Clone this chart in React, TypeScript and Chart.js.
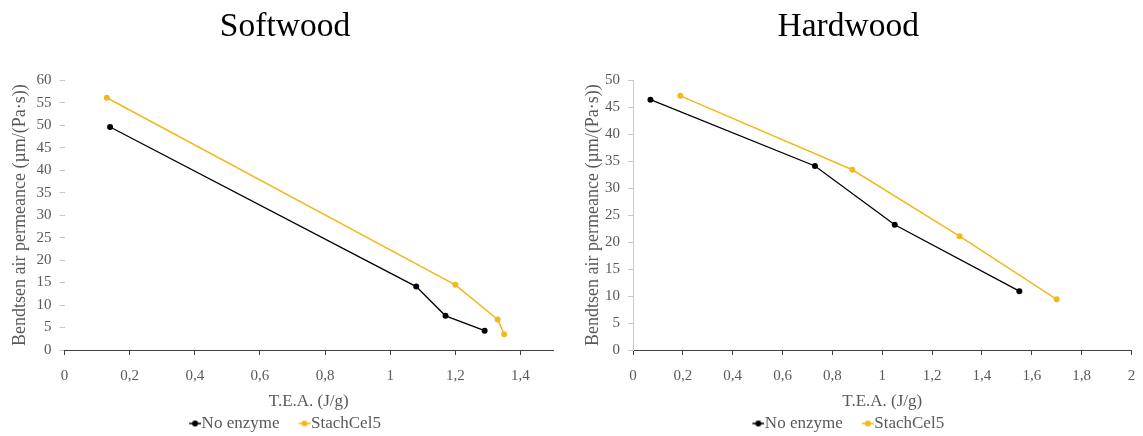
import React, { useEffect, useRef } from 'react';
import { Chart, registerables } from 'chart.js';
Chart.register(...registerables);

const seriesNames = ['No enzyme', 'StachCel5'];
const softNoEnzymeX = [0.14, 1.08, 1.17, 1.29];
const softNoEnzymeY = [49.6, 14.1, 7.6, 4.3];
const softStachX = [0.13, 1.2, 1.33, 1.35];
const softStachY = [56.1, 14.5, 6.8, 3.5];
const hardNoEnzymeX = [0.07, 0.73, 1.05, 1.55];
const hardNoEnzymeY = [46.4, 34.1, 23.2, 10.9];
const hardStachX = [0.19, 0.88, 1.31, 1.7];
const hardStachY = [47.1, 33.4, 21.1, 9.4];
const softXTicks = [0, 0.2, 0.4, 0.6, 0.8, 1, 1.2, 1.4];
const hardXTicks = [0, 0.2, 0.4, 0.6, 0.8, 1, 1.2, 1.4, 1.6, 1.8, 2];

const BLACK = '#000000';
const GOLD = '#F2B91C';
const FONT = "'Liberation Serif', 'Times New Roman', serif";
const GREY = '#595959';

function marker(color: string) {
  const c = document.createElement('canvas');
  c.width = 20;
  c.height = 8;
  const ctx = c.getContext('2d')!;
  ctx.strokeStyle = color;
  ctx.lineWidth = 1.5;
  ctx.beginPath();
  ctx.moveTo(8, 4);
  ctx.lineTo(20, 4);
  ctx.stroke();
  ctx.fillStyle = color;
  ctx.beginPath();
  ctx.arc(14, 4, 3, 0, Math.PI * 2);
  ctx.fill();
  return c;
}

function fmt(v: number) {
  return String(Math.round(v * 10) / 10).replace('.', ',');
}

type Props = {
  title: string;
  nx: number[]; ny: number[]; sx: number[]; sy: number[];
  xMax: number; xTicks: number[]; yMax: number; showYBorder: boolean;
  padLeft: number; padRight: number; yWidth: number; yTitlePad: number;
  left: number; width: number;
};

function Panel(p: Props) {
  const ref = useRef<HTMLCanvasElement>(null);
  useEffect(() => {
    const mk = (xs: number[], ys: number[]) => xs.map((x, i) => ({ x, y: ys[i] }));
    const chart = new Chart(ref.current!, {
      type: 'line',
      data: {
        datasets: [
          {
            label: seriesNames[0], data: mk(p.nx, p.ny), borderColor: BLACK, backgroundColor: BLACK,
            borderWidth: 1.3, pointRadius: 3, pointBackgroundColor: BLACK, pointBorderWidth: 0,
            pointStyle: 'circle',
          },
          {
            label: seriesNames[1], data: mk(p.sx, p.sy), borderColor: GOLD, backgroundColor: GOLD,
            borderWidth: 1.5, pointRadius: 3, pointBackgroundColor: GOLD, pointBorderWidth: 0,
            pointStyle: 'circle',
          },
        ],
      },
      options: {
        animation: false,
        responsive: false,
        maintainAspectRatio: false,
        layout: { padding: { left: p.padLeft, right: p.padRight, top: 0, bottom: -6 } },
        plugins: {
          title: {
            display: true, text: p.title, color: '#000',
            font: { family: FONT, size: 33.5, weight: 'normal' },
            padding: { top: 7, bottom: 33 },
          },
          legend: {
            position: 'bottom',
            labels: {
              usePointStyle: true, pointStyleWidth: 4, color: GREY, boxHeight: 8,
              font: { family: FONT, size: 17 }, padding: 19,
              generateLabels: (ch: any) => ch.data.datasets.map((d: any, i: number) => ({
                text: d.label, pointStyle: marker(d.borderColor), fillStyle: d.borderColor,
                strokeStyle: d.borderColor, lineWidth: 0, datasetIndex: i, fontColor: GREY,
              })),
            },
          },
          tooltip: { enabled: false },
        },
        scales: {
          x: {
            type: 'linear', min: 0, max: p.xMax,
            afterBuildTicks: (s: any) => {
              s.ticks = p.xTicks.map((v) => ({ value: v }));
            },
            ticks: { color: GREY, font: { family: FONT, size: 15 }, callback: (v: any) => fmt(Number(v)), padding: 12, autoSkip: false, maxRotation: 0 },
            grid: { drawOnChartArea: false, drawTicks: true, tickLength: 5, color: '#404040' },
            border: { display: true, color: '#404040', width: 1 },
            title: { display: true, text: 'T.E.A. (J/g)', color: GREY, font: { family: FONT, size: 17 }, padding: { top: 0, bottom: -16 } },
            afterFit: (s: any) => { s.height = 46; s.paddingLeft = 0; s.paddingRight = 4; },
          },
          y: {
            type: 'linear', min: 0, max: p.yMax,
            ticks: { stepSize: 5, color: GREY, font: { family: FONT, size: 15 }, padding: 8 },
            grid: { drawOnChartArea: false, drawTicks: true, tickLength: 5, color: '#c8c8c8' },
            border: { display: p.showYBorder, color: '#c8c8c8', width: 1 },
            title: { display: true, text: 'Bendtsen air permeance (µm/(Pa·s))', color: GREY, font: { family: FONT, size: 18 }, padding: { top: p.yTitlePad, bottom: 0 } },
            afterFit: (s: any) => { s.width = p.yWidth; s.paddingLeft = 0; s.paddingRight = 0; },
          },
        },
      },
    } as any);
    return () => chart.destroy();
  }, []);
  return (
    <canvas ref={ref} width={p.width} height={436}
      style={{ position: 'absolute', left: p.left, top: 0, display: 'block', width: p.width, height: 436 }} />
  );
}

export default function App() {
  return (
    <div style={{ position: 'fixed', left: 0, top: 0, width: 1143, height: 436, background: '#fff', overflow: 'hidden' }}>
      <Panel title="Softwood" nx={softNoEnzymeX} ny={softNoEnzymeY} sx={softStachX} sy={softStachY}
        xMax={1.5} xTicks={softXTicks} yMax={60} showYBorder={false}
        padLeft={17} padRight={18} yWidth={47.5} yTitlePad={-8} left={0} width={571} />
      <Panel title="Hardwood" nx={hardNoEnzymeX} ny={hardNoEnzymeY} sx={hardStachX} sy={hardStachY}
        xMax={2} xTicks={hardXTicks} yMax={50} showYBorder={true}
        padLeft={0} padRight={11.5} yWidth={68} yTitlePad={17} left={565} width={578} />
    </div>
  );
}
